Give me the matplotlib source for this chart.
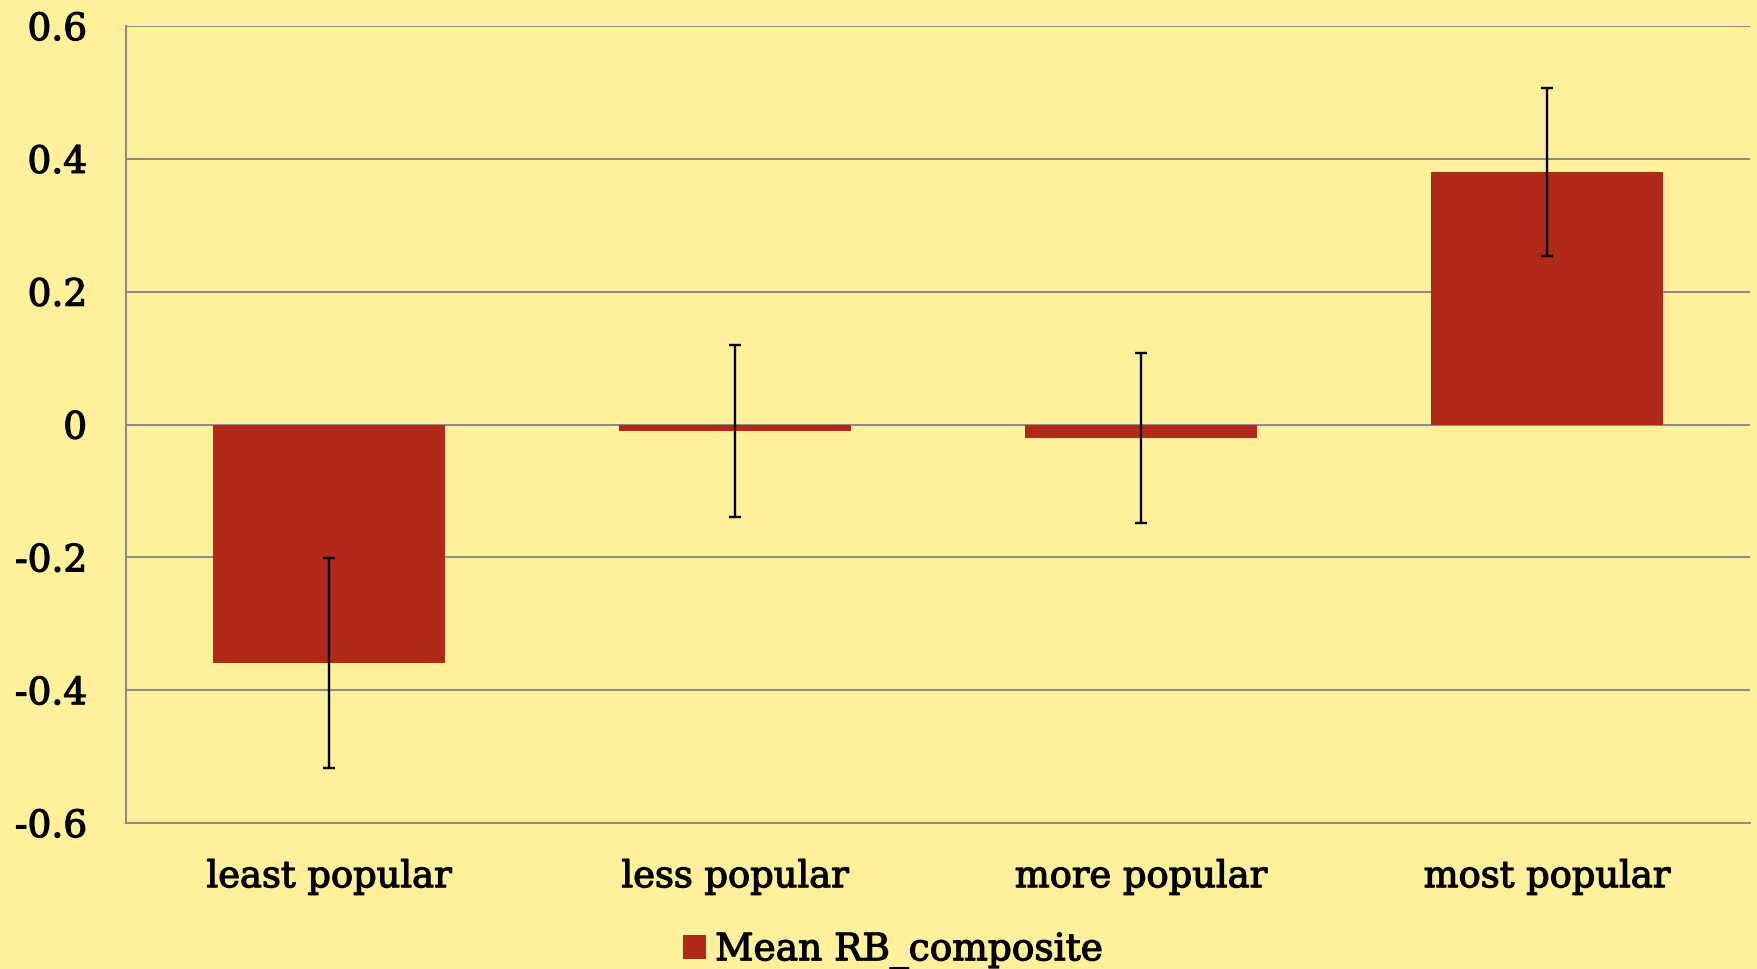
import matplotlib
matplotlib.use("Agg")
import matplotlib.pyplot as plt
import matplotlib.patheffects as pe
from matplotlib.patches import Patch

categories = ["least popular", "less popular", "more popular", "most popular"]
means = [-0.359, -0.010, -0.020, 0.380]
errors = [0.158, 0.130, 0.128, 0.127]
yticks = [-0.6, -0.4, -0.2, 0, 0.2, 0.4, 0.6]
ytick_labels = ["-0.6", "-0.4", "-0.2", "0", "0.2", "0.4", "0.6"]
series_name = "Mean RB_composite"

bg = "#FFF19B"
bar_color = "#B02A17"
grid_color = "#8C8C8C"

plt.rcParams["font.family"] = ["DejaVu Serif"]
thick = [pe.withStroke(linewidth=0.9, foreground="black")]

fig = plt.figure(figsize=(17.58, 9.70), dpi=100)
fig.patch.set_facecolor(bg)
ax = fig.add_axes([126/1758, 1 - 824/970, (1750-126)/1758, (824-27)/970])
ax.set_facecolor(bg)

x = list(range(len(categories)))
ax.bar(x, means, width=0.57, color=bar_color, zorder=3)
ax.errorbar(x, means, yerr=errors, fmt="none", ecolor="black", elinewidth=1.7,
            capsize=4.5, capthick=1.7, zorder=4)

ax.set_xlim(-0.5, len(categories) - 0.5)
ax.set_ylim(-0.6, 0.6)
ax.set_yticks(yticks)
ax.set_yticklabels(ytick_labels, fontsize=27)
ax.set_xticks(x)
ax.set_xticklabels(categories, fontsize=26.5)
ax.tick_params(axis="y", length=0, pad=28)
ax.tick_params(axis="x", length=0, pad=26)
for lab in ax.get_yticklabels() + ax.get_xticklabels():
    lab.set_path_effects(thick)

ax.grid(axis="y", color=grid_color, linewidth=1.5, zorder=0)
ax.set_axisbelow(True)
for s in ["top", "right"]:
    ax.spines[s].set_visible(False)
for s in ["left", "bottom"]:
    ax.spines[s].set_color(grid_color)
    ax.spines[s].set_linewidth(1.5)

handle = Patch(facecolor=bar_color, edgecolor="none")
leg = fig.legend([handle], [series_name], loc="lower center", bbox_to_anchor=(0.508, -0.035),
                 frameon=False, prop={"size": 27}, handlelength=0.6,
                 handleheight=0.6, handletextpad=0.25)
for t in leg.get_texts():
    t.set_path_effects(thick)

fig.savefig("out.png", dpi=100, facecolor=bg)
